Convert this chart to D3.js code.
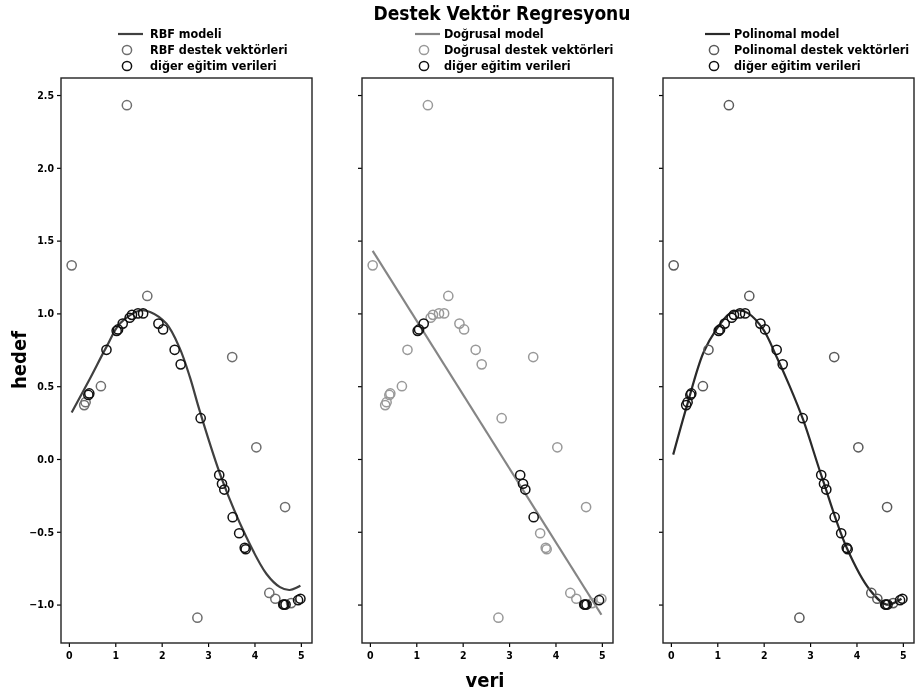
<!DOCTYPE html>
<html>
<head>
<meta charset="utf-8">
<script src="https://cdn.jsdelivr.net/npm/d3@7"></script>
<style>
  body { margin: 0; background: #fff; }
  svg { filter: blur(0.35px); }
  text { font-family: "DejaVu Sans Condensed", "DejaVu Sans", sans-serif; font-weight: bold; }
</style>
</head>
<body>
<div class="chart"></div>
<script>
// training data
let xData = [0.06, 0.33, 0.36, 0.42, 0.44, 0.69, 0.81, 1.03, 1.06, 1.16,
             1.25, 1.31, 1.36, 1.49, 1.60, 1.69, 1.93, 2.03, 2.28, 2.41,
             2.77, 2.84, 3.24, 3.30, 3.35, 3.52, 3.53, 3.67, 3.79, 3.81,
             4.04, 4.32, 4.45, 4.62, 4.64, 4.66, 4.67, 4.79, 4.94, 4.99];
let yData = [1.33, 0.37, 0.39, 0.44, 0.45, 0.50, 0.75, 0.88, 0.89, 0.93,
             2.43, 0.97, 0.99, 1.00, 1.00, 1.12, 0.93, 0.89, 0.75, 0.65,
             -1.09, 0.28, -0.11, -0.17, -0.21, 0.70, -0.40, -0.51, -0.61, -0.62,
             0.08, -0.92, -0.96, -1.00, -1.00, -0.33, -1.00, -0.99, -0.97, -0.96];

// model curves
let rbfX = [0.06, 0.45, 0.81, 1.10, 1.53, 1.75, 2.10, 2.39, 2.61, 2.82, 3.30, 3.83, 4.26, 4.55, 4.76, 4.99];
let rbfY = [0.32, 0.55, 0.77, 0.93, 1.02, 1.01, 0.93, 0.76, 0.56, 0.33, -0.14, -0.54, -0.79, -0.88, -0.90, -0.87];
let linX = [0.06, 4.99];
let linY = [1.43, -1.07];
let polyX = [0.05, 0.34, 0.70, 0.98, 1.27, 1.49, 1.67, 1.99, 2.28, 2.56, 2.85, 3.25, 3.79, 4.29, 4.65, 4.97];
let polyY = [0.03, 0.36, 0.73, 0.89, 1.00, 1.02, 1.00, 0.89, 0.70, 0.50, 0.27, -0.12, -0.61, -0.90, -1.00, -0.96];

// support vector indices per model
let rbfSV = [0, 1, 2, 5, 10, 15, 20, 25, 30, 31, 32, 35, 37];
let linOther = [7, 8, 9, 22, 23, 24, 26, 33, 34, 36, 38];
let linSV = d3.range(40).filter(i => !linOther.includes(i));
let polySV = [0, 5, 6, 10, 15, 20, 25, 30, 31, 32, 35, 37];

let xTicks = [0, 1, 2, 3, 4, 5];
let yTicks = [-1.0, -0.5, 0.0, 0.5, 1.0, 1.5, 2.0, 2.5];

let models = [
    {name: "RBF modeli", sv: "RBF destek vektörleri", x: rbfX, y: rbfY, idx: rbfSV, line: "#404040", svColor: "#6e6e6e"},
    {name: "Doğrusal model", sv: "Doğrusal destek vektörleri", x: linX, y: linY, idx: linSV, line: "#858585", svColor: "#999"},
    {name: "Polinomal model", sv: "Polinomal destek vektörleri", x: polyX, y: polyY, idx: polySV, line: "#2a2a2a", svColor: "#5a5a5a"}
];

let svgWidth = 919;
let svgHeight = 694;
let panelLeft = [61, 362, 663];
let panelWidth = 251;
let plotTop = 78;
let plotBottom = 643;
let markerR = 4.6;

let svg = d3.select(".chart")
    .append("svg")
    .attr("width", svgWidth)
    .attr("height", svgHeight);

let yScale = d3.scaleLinear()
    .domain([-1.264, 2.617])
    .range([plotBottom, plotTop]);

models.forEach(function(m, p) {
    let xScale = d3.scaleLinear()
        .domain([-0.17, 5.24])
        .range([panelLeft[p], panelLeft[p] + panelWidth]);
    let g = svg.append("g");

    let bottomAxis = d3.axisBottom(xScale).tickValues(xTicks).tickFormat(d3.format("d")).tickSizeOuter(0).tickSize(4);
    let gx = g.append("g")
        .attr("transform", `translate(0, ${plotBottom})`)
        .call(bottomAxis);
    gx.selectAll("text").attr("font-size", 10.5).attr("dy", "0.9em").attr("fill", "#000");

    let leftAxis = d3.axisLeft(yScale).tickValues(yTicks).tickFormat(d3.format(".1f")).tickSizeOuter(0).tickSize(4);
    let gy = g.append("g")
        .attr("transform", `translate(${panelLeft[p]}, 0)`)
        .call(leftAxis);
    gy.selectAll("text").attr("font-size", 10.5).attr("fill", "#000")
        .text(d => p === 0 ? d3.format(".1f")(d).replace("-", "\u2212") : "");
    g.selectAll(".domain").remove();
    g.selectAll(".tick line").attr("stroke", "#000").attr("stroke-width", 1.2);

    g.append("rect")
        .attr("x", panelLeft[p])
        .attr("y", plotTop)
        .attr("width", panelWidth)
        .attr("height", plotBottom - plotTop)
        .attr("fill", "none")
        .attr("stroke", "#222")
        .attr("stroke-width", 1.4);

    let line = d3.line()
        .x((d, i) => xScale(m.x[i]))
        .y((d, i) => yScale(m.y[i]))
        .curve(d3.curveCatmullRom);
    g.append("path")
        .attr("d", line(m.x))
        .attr("fill", "none")
        .attr("stroke", m.line)
        .attr("stroke-width", 2.2);

    let others = d3.range(xData.length).filter(i => !m.idx.includes(i));
    g.selectAll(".sv")
        .data(m.idx)
        .enter()
        .append("circle")
        .attr("cx", i => xScale(xData[i]))
        .attr("cy", i => yScale(yData[i]))
        .attr("r", markerR)
        .attr("fill", "none")
        .attr("stroke", m.svColor)
        .attr("stroke-width", 1.5);
    g.selectAll(".other")
        .data(others)
        .enter()
        .append("circle")
        .attr("cx", i => xScale(xData[i]))
        .attr("cy", i => yScale(yData[i]))
        .attr("r", markerR)
        .attr("fill", "none")
        .attr("stroke", "#111")
        .attr("stroke-width", 1.5);

    // legend above the panel
    let lx = [118, 415, 705][p];
    let leg = svg.append("g").attr("transform", `translate(${lx}, 0)`);
    leg.append("line")
        .attr("x1", 0).attr("x2", 25).attr("y1", 34).attr("y2", 34)
        .attr("stroke", m.line).attr("stroke-width", 2.2);
    leg.append("circle").attr("cx", 9).attr("cy", 50).attr("r", markerR)
        .attr("fill", "none").attr("stroke", m.svColor).attr("stroke-width", 1.5);
    leg.append("circle").attr("cx", 9).attr("cy", 66).attr("r", markerR)
        .attr("fill", "none").attr("stroke", "#111").attr("stroke-width", 1.5);
    let labels = [m.name, m.sv, "diğer eğitim verileri"];
    labels.forEach(function(t, k) {
        leg.append("text")
            .attr("x", p === 0 ? 32 : 29)
            .attr("y", 34 + k * 16)
            .attr("dy", "0.35em")
            .attr("font-size", 12.5)
            .text(t);
    });
});

svg.append("text")
    .attr("x", 502)
    .attr("y", 20)
    .attr("text-anchor", "middle")
    .attr("font-size", 19)
    .text("Destek Vektör Regresyonu");

svg.append("text")
    .attr("x", 485)
    .attr("y", 687)
    .attr("text-anchor", "middle")
    .attr("font-size", 20)
    .text("veri");

svg.append("text")
    .attr("transform", "translate(26, 360) rotate(-90)")
    .attr("text-anchor", "middle")
    .attr("font-size", 20)
    .text("hedef");
</script>
</body>
</html>
